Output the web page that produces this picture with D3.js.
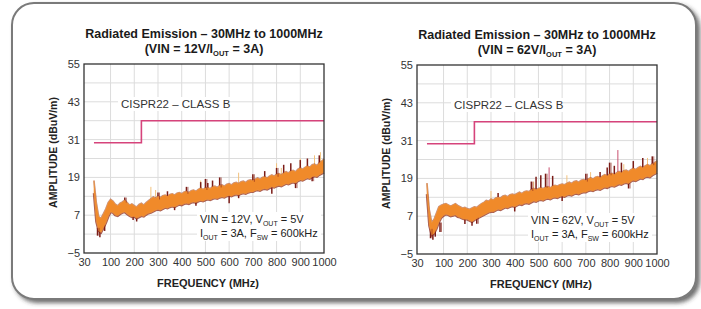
<!DOCTYPE html>
<html>
<head>
<meta charset="utf-8">
<script src="https://cdn.jsdelivr.net/npm/d3@7"></script>
<style>
body { margin: 0; background: #fff; }
text { font-family: "Liberation Sans", Arial, sans-serif; }
</style>
</head>
<body>
<svg id="chart" width="701" height="309"></svg>
<script>
// frequency points of the measured traces (MHz)
var freqs = [30,40,50,60,70,80,90,100,110,120,130,140,150,160,170,180,190,200,210,220,
	230,240,250,260,270,280,290,300,310,320,330,340,350,360,370,380,390,400,410,420,
	430,440,450,460,470,480,490,500,510,520,530,540,550,560,570,580,590,600,610,620,
	630,640,650,660,670,680,690,700,710,720,730,740,750,760,770,780,790,800,810,820,
	830,840,850,860,870,880,890,900,910,920,930,940,950,960,970,980,990,1000];

// VIN = 12V trace, upper / lower edge of the orange band (dBuV/m)
var vin12Hi = [18,11,6.5,6,7.5,9,11,12,11.5,10.5,10,10.8,11.2,11.8,11,10.2,10.6,10,9.6,10.4,
	10.8,10.2,11,11.6,12.2,12.8,12.4,13,12.6,13.2,13.4,13,13.6,13.8,13.4,14,14.2,13.8,14.4,14.6,
	14.2,14.8,15,14.6,15.2,15.6,15.2,15.6,15.8,15.4,16,16.2,15.8,16.4,16.6,16.2,16.8,17,16.6,17.2,
	17.4,17,17.6,17.8,17.4,18,18.2,18,18.4,18.8,18.4,19,19.2,18.8,19.4,19.8,19.4,20,20.2,19.8,
	20.4,20.8,20.4,21,21.2,20.8,21.6,22,21.6,22.2,22.6,22.2,23,23.2,22.8,23.6,24.2,24.8];
var vin12Lo = [14,5,2,1.5,3,4.5,6.5,8,7.8,7,6.8,7.4,7.8,8,7.4,6.8,6.4,6.6,6,6.4,
	6.8,6.6,7.2,7.6,7.8,8.2,8.6,8.8,8.6,9,9.4,9.2,9.6,9.8,9.6,10,10.4,10.2,10.6,10.8,
	10.6,11,11.2,11,11.4,11.6,11.4,11.8,12,11.8,12.2,12.4,12.2,12.6,12.8,12.6,13,13.2,13,13.4,
	13.6,13.4,13.8,14,13.8,14.2,14.4,14.4,14.8,15,14.8,15.2,15.4,15.2,15.6,16,15.8,16.2,16.4,16.2,
	16.6,17,16.8,17.2,17.4,17.2,17.8,18.2,18,18.4,18.8,18.6,19.2,19.4,19.2,19.8,20.2,20.6];
// dark red excursions [freq, low, high]
var vin12Dark = [[45,0.5,3],[55,0,2],[75,2,4],[160,11,12.6],[195,5.5,7],[210,5,6.5],[300,12,14.2],
	[340,12.5,14.6],[370,8.6,10],[420,13.8,16],[460,10,11.4],[480,14.5,17.5],[500,15,18.5],[510,15,17.2],
	[530,15.5,18],[560,15.8,19],[600,10.8,13.4],[640,12.4,13.6],[700,17.6,20],[750,18.6,21],[780,13.8,15.8],
	[800,19.2,22],[830,19.8,23],[860,20.5,23.5],[880,15.6,17.2],[900,21,24.5],[930,22,25],[950,17.8,19.2],[980,23,26]];
// light peaks [freq, top]
var vin12Peaks = [[270,16],[290,15],[480,18],[640,20.5],[700,19.5],[800,23.5],[820,22],[900,25],[960,26],[985,27]];
var vin12Pink = [];

// VIN = 62V trace
var vin62Hi = [17.5,9,5,6,8,10,10.5,10.8,11,10.6,10.2,10.6,11,10.4,10,9.6,9.8,9.4,9.2,9.6,
	10,9.8,10.4,11,11.4,12,11.8,12.4,12.2,12.8,13,12.8,13.4,13.6,13.2,13.8,14,13.8,14.2,14.6,
	14.2,14.8,15,14.8,15.4,15.8,15.4,15.8,16,15.8,16.2,16.4,16,16.6,16.8,16.6,17,17.2,17,17.4,
	17.8,17.4,18,18.2,17.8,18.4,18.6,18.4,18.8,19.2,18.8,19.4,19.6,19.2,19.8,20.2,19.8,20.4,20.6,20.2,
	20.8,21.2,20.8,21.4,21.6,21.2,21.8,22.2,21.8,22.4,22.8,22.4,23,23.4,23,23.6,24,24.6];
var vin62Lo = [14,4,1,1.5,3,5,6.5,7.2,7.6,7.4,7,7.2,7.4,6.8,6.6,6.2,6,6,5.6,5.2,
	5.8,6.2,6.6,7,7.4,7.8,8.2,8.4,8.4,8.8,9.2,9,9.4,9.8,9.6,10,10.2,10,10.4,10.8,
	10.6,11,11.2,11,11.4,11.8,11.6,12,12.2,12,12.4,12.6,12.4,12.8,13,12.8,13.2,13.4,13.2,13.6,
	13.8,13.6,14,14.2,14,14.4,14.6,14.6,15,15.2,15,15.4,15.6,15.4,15.8,16.2,16,16.4,16.6,16.4,
	16.8,17.2,17,17.4,17.6,17.4,18,18.4,18.2,18.6,19,18.8,19.4,19.6,19.4,20,20.4,20.8];
var vin62Dark = [[45,0,3],[55,-0.5,2],[65,0.5,3],[85,2,5],[190,4.5,6.5],[220,4,6],[240,4.6,6.5],
	[330,13,14.4],[400,8.5,10],[470,15,18],[490,15.2,19.5],[510,15.6,20],[530,16,20.5],[560,16.4,19.8],
	[600,11.8,13.4],[700,18,20.5],[760,18.8,21],[790,19.5,22.5],[800,20,24],[820,19.8,23],[850,20.6,24],
	[880,15.8,17.4],[900,21.8,24.5],[940,22,25.5],[980,23.2,26]];
var vin62Peaks = [[300,15],[480,18],[620,20],[720,21],[860,23.5],[960,25.5]];
var vin62Pink = [[545,22.5],[835,28]];

// CISPR22 class B limit
var limitFreq = [30, 230, 230, 1000];
var limitLevel = [30, 30, 37, 37];

// axes
var xTickLabels = ["30","100","200","300","400","500","600","700","800","900","1000"];
var xTickFreq = [-12,100,200,300,400,500,600,700,800,900,1000];
var xGrid = [100,200,300,400,500,600,700,800,900];
var yTicks = [55,43,31,19,7,-5];
var yGrid = [1,7,13,19,25,31,37,43,49];

var svg = d3.select("#chart");
var W = 240, H = 189;

// panel with shadow
var defs = svg.append("defs");
var f = defs.append("filter").attr("id", "shadow").attr("x", "-5%").attr("y", "-5%").attr("width", "115%").attr("height", "115%");
f.append("feDropShadow").attr("dx", 3).attr("dy", 3).attr("stdDeviation", 2)
	.attr("flood-color", "#333").attr("flood-opacity", 0.7);

svg.append("rect")
	.attr("x", 12).attr("y", 3)
	.attr("width", 684).attr("height", 296)
	.attr("rx", 22).attr("ry", 22)
	.attr("fill", "#fff")
	.attr("stroke", "#7a7a7a")
	.attr("stroke-width", 2)
	.attr("filter", "url(#shadow)");

drawChart(84, 64, {
	vin: "12V", hi: vin12Hi, lo: vin12Lo, dark: vin12Dark, peaks: vin12Peaks, pink: vin12Pink, noteX: 116
});
drawChart(417, 65, {
	vin: "62V", hi: vin62Hi, lo: vin62Lo, dark: vin62Dark, peaks: vin62Peaks, pink: vin62Pink, noteX: 114
});

function drawChart(ox, oy, cfg) {
	var g = svg.append("g").attr("transform", "translate(" + ox + "," + oy + ")");

	var x = d3.scaleLinear().domain([xTickFreq[0], 1000]).range([0, W]);
	var y = d3.scaleLinear().domain([-5, 55]).range([H, 0]);

	// titles
	g.append("text")
		.attr("x", W / 2).attr("y", -26)
		.attr("text-anchor", "middle")
		.attr("font-size", 12.5).attr("font-weight", "bold").attr("fill", "#1a1a1a")
		.text("Radiated Emission \u2013 30MHz to 1000MHz");
	var t2 = g.append("text")
		.attr("x", W / 2).attr("y", -11)
		.attr("text-anchor", "middle")
		.attr("font-size", 12.5).attr("font-weight", "bold").attr("fill", "#1a1a1a");
	t2.append("tspan").text("(VIN = " + cfg.vin + "/I");
	t2.append("tspan").attr("font-size", 7.5).attr("dy", 3).text("OUT");
	t2.append("tspan").attr("dy", -3).text(" = 3A)");

	// grid
	g.append("g").selectAll("line").data(xGrid).enter().append("line")
		.attr("x1", function(d) { return x(d); })
		.attr("x2", function(d) { return x(d); })
		.attr("y1", 0).attr("y2", H)
		.attr("stroke", "#dcdcdc").attr("stroke-width", 1);
	g.append("g").selectAll("line").data(yGrid).enter().append("line")
		.attr("x1", 0).attr("x2", W)
		.attr("y1", function(d) { return y(d); })
		.attr("y2", function(d) { return y(d); })
		.attr("stroke", "#dcdcdc").attr("stroke-width", 1);

	// limit label with white backing
	var lbl = g.append("g");
	lbl.append("rect").attr("x", 34).attr("y", 33).attr("width", 112).attr("height", 14).attr("fill", "#fff");
	lbl.append("text")
		.attr("x", 37).attr("y", 44)
		.attr("font-size", 11.5).attr("fill", "#333")
		.text("CISPR22 \u2013 CLASS B");

	// limit line
	var limitLine = d3.line()
		.x(function(d, i) { return x(limitFreq[i]); })
		.y(function(d) { return y(d); });
	g.append("path")
		.attr("d", limitLine(limitLevel))
		.attr("fill", "none")
		.attr("stroke", "#d6437b")
		.attr("stroke-width", 1.6);

	// light peaks
	g.append("g").selectAll("line").data(cfg.peaks).enter().append("line")
		.attr("x1", function(d) { return x(d[0]); })
		.attr("x2", function(d) { return x(d[0]); })
		.attr("y1", function(d) { return y(d[1]); })
		.attr("y2", function(d) { return y(d[1] - 5); })
		.attr("stroke", "#f2c27d").attr("stroke-width", 1);

	// pink peaks
	g.append("g").selectAll("line").data(cfg.pink).enter().append("line")
		.attr("x1", function(d) { return x(d[0]); })
		.attr("x2", function(d) { return x(d[0]); })
		.attr("y1", function(d) { return y(d[1]); })
		.attr("y2", function(d) { return y(d[1] - 7); })
		.attr("stroke", "#c9506f").attr("stroke-width", 1);

	// dark red trace edges (behind orange)
	var loLine = d3.line()
		.x(function(d, i) { return x(freqs[i]); })
		.y(function(d) { return y(d); });
	g.append("path")
		.attr("d", loLine(cfg.lo))
		.attr("fill", "none")
		.attr("stroke", "#8a2418").attr("stroke-width", 2.4).attr("opacity", 0.75);
	g.append("path")
		.attr("d", loLine(cfg.hi))
		.attr("fill", "none")
		.attr("stroke", "#8a2418").attr("stroke-width", 1.6).attr("opacity", 0.5);

	// dark red excursions
	g.append("g").selectAll("line").data(cfg.dark).enter().append("line")
		.attr("x1", function(d) { return x(d[0]); })
		.attr("x2", function(d) { return x(d[0]); })
		.attr("y1", function(d) { return y(d[1]); })
		.attr("y2", function(d) { return y(d[2]); })
		.attr("stroke", "#7b1c17").attr("stroke-width", 1.5);

	// orange band
	var band = d3.area()
		.x(function(d, i) { return x(freqs[i]); })
		.y0(function(d, i) { return y(cfg.lo[i]); })
		.y1(function(d) { return y(d); });
	g.append("path")
		.attr("d", band(cfg.hi))
		.attr("fill", "#f08a2a")
		.attr("stroke", "#ee9a45")
		.attr("stroke-width", 0.5);

	// dark red flecks on top of band
	g.append("g").selectAll("line").data(cfg.dark.filter(function(d, i) { return i % 3 == 0; })).enter().append("line")
		.attr("x1", function(d) { return x(d[0]) + 1.5; })
		.attr("x2", function(d) { return x(d[0]) + 1.5; })
		.attr("y1", function(d) { return y(d[1]); })
		.attr("y2", function(d) { return y(d[2]); })
		.attr("stroke", "#8a2418").attr("stroke-width", 0.9).attr("opacity", 0.7);

	// condition note
	g.append("rect").attr("x", cfg.noteX - 3).attr("y", 148).attr("width", 124).attr("height", 29).attr("fill", "#fff");
	var n1 = g.append("text").attr("x", cfg.noteX).attr("y", 159).attr("font-size", 11).attr("fill", "#222");
	n1.append("tspan").text("VIN = " + cfg.vin + ", V");
	n1.append("tspan").attr("font-size", 7).attr("dy", 3).text("OUT");
	n1.append("tspan").attr("dy", -3).text(" = 5V");
	var n2 = g.append("text").attr("x", cfg.noteX).attr("y", 173).attr("font-size", 11).attr("fill", "#222");
	n2.append("tspan").text("I");
	n2.append("tspan").attr("font-size", 7).attr("dy", 3).text("OUT");
	n2.append("tspan").attr("dy", -3).text(" = 3A, F");
	n2.append("tspan").attr("font-size", 7).attr("dy", 3).text("SW");
	n2.append("tspan").attr("dy", -3).text(" = 600kHz");

	// frame
	g.append("rect")
		.attr("x", 0).attr("y", 0).attr("width", W).attr("height", H)
		.attr("fill", "none").attr("stroke", "#333").attr("stroke-width", 1.3);

	// axes
	var xAxis = d3.axisBottom(x)
		.tickValues(xTickFreq)
		.tickSize(0).tickPadding(5)
		.tickFormat(function(d, i) { return xTickLabels[i]; });
	var xg = g.append("g").attr("transform", "translate(0," + H + ")").call(xAxis);
	xg.select(".domain").remove();
	xg.selectAll("text").attr("font-size", 11).attr("fill", "#333").attr("font-family", "Liberation Sans, Arial, sans-serif");

	var yAxis = d3.axisLeft(y)
		.tickValues(yTicks)
		.tickSize(0).tickPadding(4)
		.tickFormat(function(d) { return d < 0 ? "\u2212" + Math.abs(d) : d; });
	var yg = g.append("g").call(yAxis);
	yg.select(".domain").remove();
	yg.selectAll("text").attr("font-size", 11).attr("fill", "#333").attr("font-family", "Liberation Sans, Arial, sans-serif");

	// axis titles
	g.append("text")
		.attr("transform", "translate(-27," + (H / 2 - 6) + ") rotate(-90)")
		.attr("text-anchor", "middle")
		.attr("font-size", 10.5).attr("font-weight", "bold").attr("fill", "#222")
		.text("AMPLITUDE (dBuV/m)");
	g.append("text")
		.attr("x", W / 2 + 4).attr("y", H + 34)
		.attr("text-anchor", "middle")
		.attr("font-size", 11).attr("font-weight", "bold").attr("fill", "#222")
		.text("FREQUENCY (MHz)");
}
</script>
</body>
</html>
